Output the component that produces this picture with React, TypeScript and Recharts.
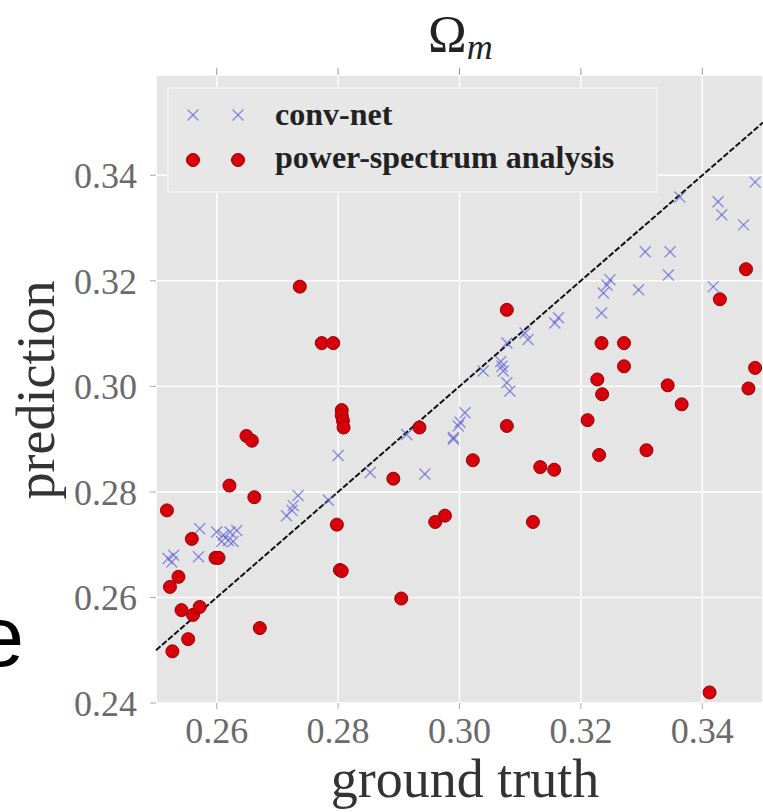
import React from 'react';
import {
  ScatterChart,
  Scatter,
  XAxis,
  YAxis,
  CartesianGrid,
  ReferenceLine,
  Customized,
} from 'recharts';

// ---- data ----
const xTicks = [0.26, 0.28, 0.3, 0.32, 0.34];
const yTicks = [0.24, 0.26, 0.28, 0.3, 0.32, 0.34];
const xDomain = [0.25, 0.35];
const yDomain = [0.24, 0.359];
const diagonal = [0.25, 0.35];

const convNetTruth = [
  0.2529, 0.2526, 0.252, 0.257, 0.2572, 0.26, 0.2611, 0.2622, 0.2633, 0.2619, 0.2627, 0.2608,
  0.2715, 0.2726, 0.2734, 0.2724, 0.2784, 0.28, 0.2853, 0.2913, 0.2943, 0.299, 0.2998,
  0.3068, 0.3072, 0.3078, 0.3113, 0.3108, 0.3157, 0.3163, 0.3234, 0.3237, 0.3243, 0.3248,
  0.3295, 0.3306, 0.3347, 0.3344, 0.3363, 0.3418, 0.3426, 0.3432, 0.3468, 0.3487,
  0.3039, 0.307, 0.3078, 0.3083, 0.3009, 0.3001, 0.299,
];
const convNetPred = [
  0.268, 0.2667, 0.2674, 0.2677, 0.273, 0.2724, 0.2718, 0.2724, 0.2727, 0.2708, 0.2706, 0.2706,
  0.2755, 0.2774, 0.2793, 0.2765, 0.2784, 0.2869, 0.2837, 0.2909, 0.2834, 0.29, 0.2925,
  0.3047, 0.3029, 0.3082, 0.3089, 0.3101, 0.312, 0.313, 0.3139, 0.3177, 0.3192, 0.3202,
  0.3183, 0.3255, 0.3255, 0.3211, 0.3359, 0.3189, 0.335, 0.3325, 0.3306, 0.3387,
  0.3029, 0.3038, 0.3007, 0.2991, 0.295, 0.2932, 0.2903,
];

const psTruth = [
  0.2518, 0.2559, 0.2598, 0.2603, 0.2621, 0.2649, 0.2658, 0.2662, 0.2537, 0.2523,
  0.2542, 0.2561, 0.2572, 0.2553, 0.2527, 0.2671, 0.2806, 0.2806, 0.2808, 0.2809,
  0.2798, 0.2803, 0.2806, 0.2904, 0.2891, 0.2934, 0.296, 0.2976, 0.2737, 0.2773,
  0.2792, 0.3078, 0.3472, 0.3429, 0.3234, 0.3271, 0.3271, 0.3487, 0.3227, 0.3235,
  0.3343, 0.3476, 0.3366, 0.3211, 0.3078, 0.3022, 0.323, 0.3308, 0.3133, 0.3156,
  0.3121, 0.3412,
];
const psPred = [
  0.2765, 0.2711, 0.2675, 0.2675, 0.2812, 0.2906, 0.2897, 0.279, 0.2639, 0.262,
  0.2576, 0.2567, 0.2582, 0.2521, 0.2498, 0.2542, 0.2955, 0.2945, 0.2935, 0.2922,
  0.2738, 0.2652, 0.265, 0.2598, 0.2825, 0.2922, 0.2743, 0.2755, 0.3189, 0.3082,
  0.3082, 0.3145, 0.3222, 0.3165, 0.3082, 0.3082, 0.3038, 0.3035, 0.3013, 0.2985,
  0.3002, 0.2996, 0.2966, 0.2936, 0.2925, 0.286, 0.287, 0.2879, 0.2847, 0.2842,
  0.2743, 0.242,
];

const convNetData = convNetTruth.map((t, i) => ({ truth: t, pred: convNetPred[i] }));
const psData = psTruth.map((t, i) => ({ truth: t, pred: psPred[i] }));

const SERIF = '"Liberation Serif", "DejaVu Serif", serif';
const CROSS_COLOR = '#6464dc';
const RED = '#d6000d';

const Cross = (props: any) => {
  const { cx, cy } = props;
  const s = 5.5;
  return (
    <g stroke={CROSS_COLOR} strokeOpacity={0.7} strokeWidth={1.4}>
      <line x1={cx - s} y1={cy - s} x2={cx + s} y2={cy + s} />
      <line x1={cx - s} y1={cy + s} x2={cx + s} y2={cy - s} />
    </g>
  );
};

const Dot = (props: any) => {
  const { cx, cy } = props;
  return <circle cx={cx} cy={cy} r={6.5} fill={RED} stroke="#9a0000" strokeWidth={1} />;
};

const Overlay = () => (
  <g>
    {/* title */}
    <text x={428} y={52} fontFamily={SERIF} fontSize={52} fill="#222">
      Ω
      <tspan fontStyle="italic" fontSize={36} dy={7}>m</tspan>
    </text>
    {/* axis titles */}
    <text x={465} y={797} fontFamily={SERIF} fontSize={54} fill="#333" textAnchor="middle">
      ground truth
    </text>
    <text
      x={54}
      y={390}
      fontFamily={SERIF}
      fontSize={54}
      fill="#333"
      textAnchor="middle"
      transform="rotate(-90 54 390)"
    >
      prediction
    </text>
    {/* cropped neighbouring glyph at the left edge, as in the reference */}
    <text x={24} y={666} fontFamily='"Liberation Sans", Arial, sans-serif' fontSize={85} fill="#000" textAnchor="end">
      e
    </text>
    {/* legend */}
    <rect x={168} y={88} width={489} height={104} fill="#e7e7e7" stroke="#efefef" strokeWidth={2} />
    <Cross cx={193} cy={115} />
    <Cross cx={238} cy={115} />
    <Dot cx={193} cy={160} />
    <Dot cx={238} cy={160} />
    <text x={275} y={125} fontFamily={SERIF} fontWeight="bold" fontSize={32} fill="#222">
      conv-net
    </text>
    <text x={275} y={168} fontFamily={SERIF} fontWeight="bold" fontSize={32} fill="#222">
      power-spectrum analysis
    </text>
  </g>
);

const tickStyle = { fontFamily: SERIF, fontSize: 36, fill: '#6a6a6a' };
const EmptyTick = () => <g />;

export default function App() {
  return (
    <div style={{ position: 'absolute', left: 0, top: 0, width: 763, height: 812, background: '#fff' }}>
      <ScatterChart width={763} height={812} margin={{ top: 65, right: 0, bottom: 49, left: 0 }}>
        <CartesianGrid stroke="#ffffff" strokeWidth={1.5} fill="#e5e5e5" />
        <XAxis
          type="number"
          dataKey="truth"
          domain={xDomain}
          ticks={xTicks}
          height={60}
          allowDataOverflow
          axisLine={false}
          tickLine={{ stroke: '#aaa' }}
          tickSize={6}
          tickMargin={8}
          tick={tickStyle}
          tickFormatter={(v: number) => v.toFixed(2)}
        />
        <XAxis
          xAxisId="top"
          orientation="top"
          type="number"
          dataKey="truth"
          domain={xDomain}
          ticks={xTicks}
          height={10}
          allowDataOverflow
          axisLine={false}
          tickLine={{ stroke: '#999' }}
          tickSize={7}
          tick={<EmptyTick />}
        />
        <YAxis
          type="number"
          dataKey="pred"
          domain={yDomain}
          ticks={yTicks}
          width={156}
          allowDataOverflow
          axisLine={false}
          tickLine={{ stroke: '#aaa' }}
          tickSize={6}
          tickMargin={13}
          tick={tickStyle}
          tickFormatter={(v: number) => v.toFixed(2)}
        />
        <ReferenceLine
          segment={[
            { x: diagonal[0], y: diagonal[0] },
            { x: diagonal[1], y: diagonal[1] },
          ]}
          stroke="#111"
          strokeWidth={2}
          strokeDasharray="6 2"
          ifOverflow="visible"
        />
        <Scatter name="conv-net" data={convNetData} shape={<Cross />} isAnimationActive={false} />
        <Scatter name="power-spectrum analysis" data={psData} shape={<Dot />} isAnimationActive={false} />
        <Customized component={Overlay} />
      </ScatterChart>
    </div>
  );
}
